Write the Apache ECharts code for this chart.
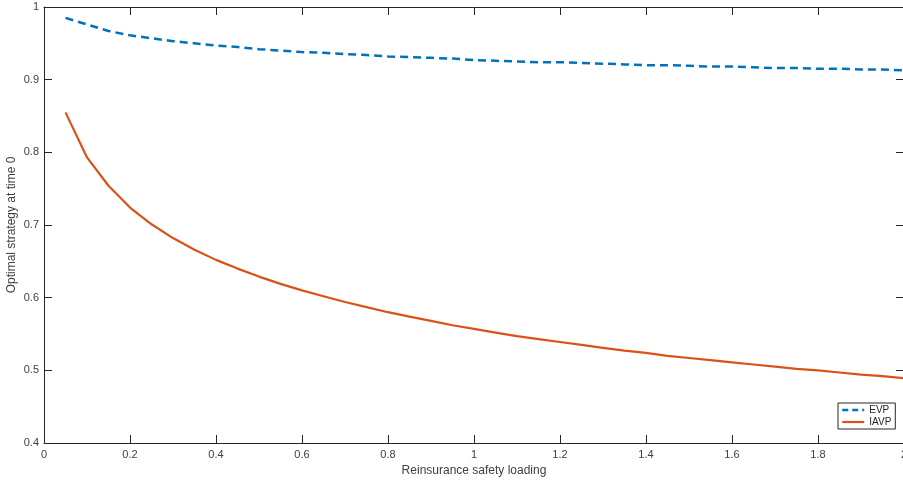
<!DOCTYPE html>
<html>
<head>
<meta charset="utf-8">
<script src="https://cdn.jsdelivr.net/npm/echarts@6/dist/echarts.min.js"></script>
<style>
html,body{margin:0;padding:0;background:#fff;}
#chart{width:903px;height:484px;}
</style>
</head>
<body>
<div id="chart"></div>
<script>
var loading = [0.05,0.10,0.15,0.20,0.25,0.30,0.35,0.40,0.45,0.50,0.55,0.60,0.65,0.70,0.75,0.80,0.85,0.90,0.95,1.00,
               1.05,1.10,1.15,1.20,1.25,1.30,1.35,1.40,1.45,1.50,1.55,1.60,1.65,1.70,1.75,1.80,1.85,1.90,1.95,2.00];
var evp = [0.985,0.976,0.967,0.961,0.957,0.953,0.950,0.947,0.945,0.942,0.940,0.938,0.937,0.935,0.934,0.932,0.931,0.930,0.929,0.927,
           0.926,0.925,0.924,0.924,0.923,0.922,0.921,0.920,0.920,0.919,0.918,0.918,0.917,0.916,0.916,0.915,0.915,0.914,0.914,0.913];
var iavp = [0.855,0.793,0.754,0.724,0.701,0.682,0.666,0.652,0.640,0.629,0.619,0.610,0.602,0.594,0.587,0.580,0.574,0.568,0.562,0.557,
            0.552,0.547,0.543,0.539,0.535,0.531,0.527,0.524,0.520,0.517,0.514,0.511,0.508,0.505,0.502,0.500,0.497,0.494,0.492,0.489];
var seriesNames = ['EVP','IAVP'];

function pairs(xs, ys){ return xs.map(function(x,i){ return [x, ys[i]]; }); }
function fmt(v){ return String(Math.round(v*10)/10); }

var axisColor = '#262626';
var textColor = '#404040';
var font = 'Liberation Sans, Arial, sans-serif';
var evpColor = '#0072BD', iavpColor = '#D95319';

var chart = echarts.init(document.getElementById('chart'), null, {renderer:'canvas'});
chart.setOption({
  animation:false,
  backgroundColor:'#fff',
  grid:{left:44, right:-1, top:7, bottom:41, containLabel:false, outerBoundsMode:'none'},
  legend:{
    data:[
      {name:seriesNames[0], itemStyle:{opacity:0}, lineStyle:{color:evpColor, width:2.5, type:[6,4]}},
      {name:seriesNames[1], itemStyle:{opacity:0}, lineStyle:{color:iavpColor, width:2.2, type:'solid'}}
    ],
    orient:'vertical',
    left:838, top:403,
    padding:[2,4,2,3],
    itemWidth:22, itemHeight:12, itemGap:2, itemTextGap:4,
    borderColor:axisColor, borderWidth:1, borderRadius:0,
    backgroundColor:'#fff',
    textStyle:{fontSize:10, color:'#262626', fontFamily:font}
  },
  xAxis:[{
    type:'value', min:0, max:2, interval:0.2, position:'bottom',
    name:'Reinsurance safety loading', nameLocation:'middle', nameGap:22, nameMoveOverlap:false,
    nameTextStyle:{fontSize:12, color:textColor, fontFamily:font},
    axisLine:{show:true, onZero:false, lineStyle:{color:axisColor, width:1}},
    axisTick:{show:true, inside:true, length:8, lineStyle:{color:axisColor}},
    axisLabel:{fontSize:11, color:textColor, fontFamily:font, margin:6, formatter:fmt},
    splitLine:{show:false}
  },{
    type:'value', min:0, max:2, interval:0.2, position:'top',
    axisLine:{show:true, onZero:false, lineStyle:{color:axisColor, width:1}},
    axisTick:{show:true, inside:true, length:8, lineStyle:{color:axisColor}},
    axisLabel:{show:false}, splitLine:{show:false}
  }],
  yAxis:[{
    type:'value', min:0.4, max:1, interval:0.1, position:'left',
    name:'Optimal strategy at time 0', nameLocation:'middle', nameGap:26, nameMoveOverlap:false,
    nameTextStyle:{fontSize:12, color:textColor, fontFamily:font},
    axisLine:{show:true, onZero:false, lineStyle:{color:axisColor, width:1}},
    axisTick:{show:true, inside:true, length:8, lineStyle:{color:axisColor}},
    axisLabel:{fontSize:11, color:textColor, fontFamily:font, margin:5, formatter:fmt},
    splitLine:{show:false}
  },{
    type:'value', min:0.4, max:1, interval:0.1, position:'right',
    axisLine:{show:true, onZero:false, lineStyle:{color:axisColor, width:1}},
    axisTick:{show:true, inside:true, length:8, lineStyle:{color:axisColor}},
    axisLabel:{show:false}, splitLine:{show:false}
  }],
  series:[{
    name:seriesNames[0], type:'line', xAxisIndex:0, yAxisIndex:0,
    data:pairs(loading, evp), symbol:'none', smooth:false,
    lineStyle:{color:evpColor, width:2.5, type:[8,5]},
    itemStyle:{color:evpColor}
  },{
    name:seriesNames[1], type:'line', xAxisIndex:0, yAxisIndex:0,
    data:pairs(loading, iavp), symbol:'none', smooth:false,
    lineStyle:{color:iavpColor, width:2.2},
    itemStyle:{color:iavpColor}
  }]
});
</script>
</body>
</html>
